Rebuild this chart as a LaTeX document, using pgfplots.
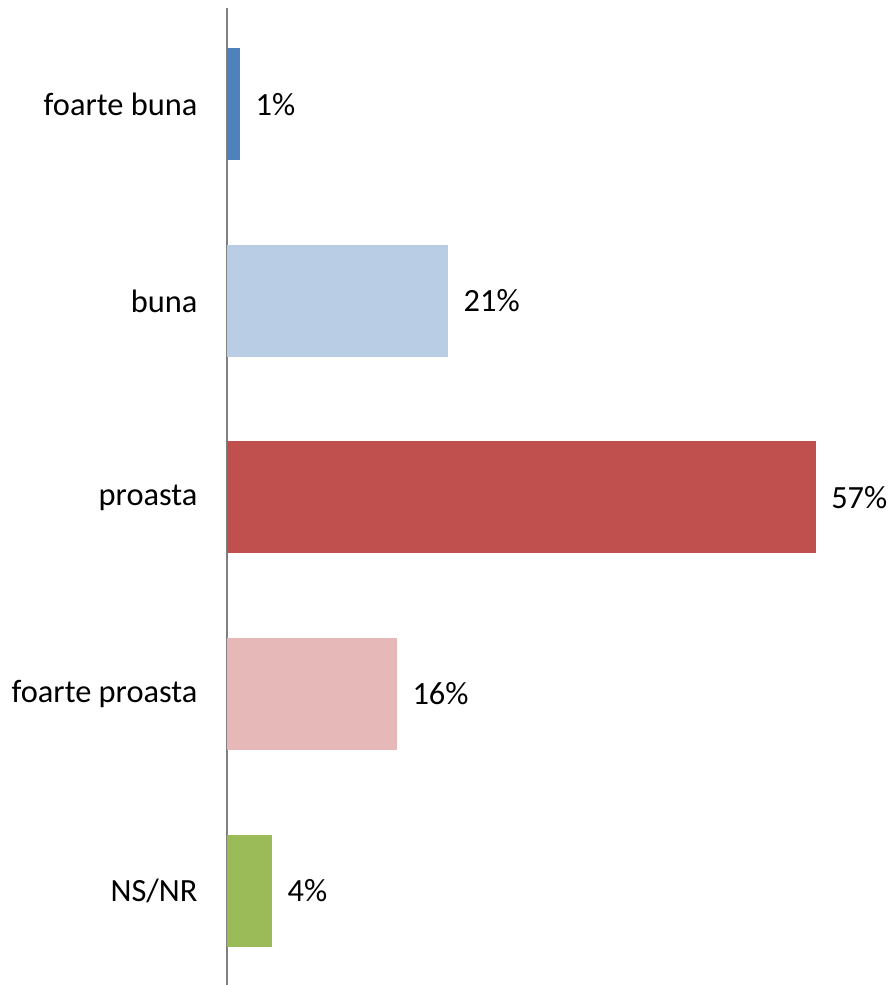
\documentclass[border=0pt]{standalone}
\usepackage{pgfplots}
\pgfplotsset{compat=1.18}
\usepackage{fontspec}
\setmainfont{Carlito}
\definecolor{c1}{HTML}{4F81BD}
\definecolor{c2}{HTML}{B9CDE5}
\definecolor{c3}{HTML}{C0504D}
\definecolor{c4}{HTML}{E6B9B8}
\definecolor{c5}{HTML}{9BBB59}
\begin{document}
\begin{tikzpicture}
\useasboundingbox (-113.5pt,0) rectangle (331.5pt,492.5pt);
\begin{axis}[
  at={(0,0)}, anchor=south west,
  scale only axis, width=331.5pt, height=488.5pt,
  xbar, bar width=56pt, bar shift=0pt,
  xmin=0, xmax=64.2, ymin=-0.49, ymax=4.48, y dir=reverse,
  ytick={0,1,2,3,4},
  yticklabels={foarte buna, buna, proasta, foarte proasta, NS/NR},
  axis x line=none, axis y line*=left,
  y axis line style={draw=black!50, -, line width=0.6pt},
  ytick style={draw=none},
  yticklabel style={font=\fontsize{16.2pt}{19pt}\selectfont, xshift=-7pt},
  every node near coord/.append style={font=\fontsize{16.2pt}{19pt}\selectfont, xshift=4.3pt, black},
  clip=false,
]
\addplot[xbar, fill=c1, draw=none, nodes near coords={1\%}] coordinates {(1.26,0)};
\addplot[xbar, fill=c2, draw=none, nodes near coords={21\%}] coordinates {(21.4,1)};
\addplot[xbar, fill=c3, draw=none, nodes near coords={57\%}] coordinates {(57.0,2)};
\addplot[xbar, fill=c4, draw=none, nodes near coords={16\%}] coordinates {(16.45,3)};
\addplot[xbar, fill=c5, draw=none, nodes near coords={4\%}] coordinates {(4.36,4)};
\end{axis}
\end{tikzpicture}
\end{document}
